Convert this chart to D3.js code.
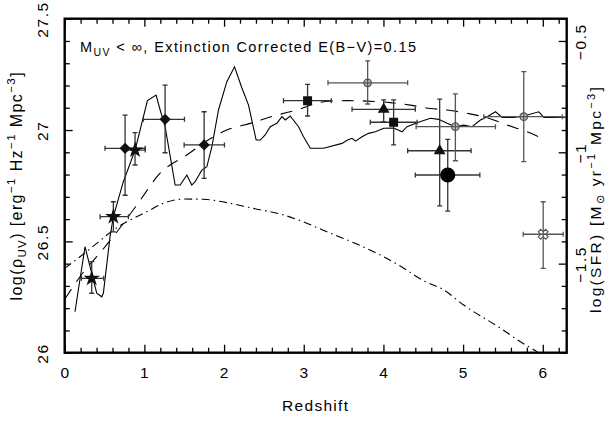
<!DOCTYPE html>
<html><head><meta charset="utf-8">
<script src="https://cdn.jsdelivr.net/npm/d3@7"></script>
<style>body{margin:0;background:#fff}svg{display:block}text{font-family:"Liberation Sans",Arial,sans-serif;fill:#000}</style>
</head><body><svg id="c" width="606" height="421"></svg>
<script>
// ---- data ----
const solidZ = [0.129,0.255,0.402,0.465,0.485,0.569,0.611,0.736,0.883,0.946,1.038,1.147,1.198,1.260,1.386,1.449,1.533,1.595,1.637,1.721,1.784,1.847,1.930,2.035,2.131,2.224,2.307,2.403,2.454,2.516,2.579,2.663,2.726,2.768,2.830,2.935,2.997,3.082,3.249,3.480,3.550,3.606,3.650,3.731,3.814,3.898,4.003,4.128,4.234,4.296,4.422,4.589,4.693,4.799,4.903,5.008,5.113,5.217,5.302,5.406,5.490,5.636,5.761,5.950,6.013,6.097,6.29];
const solidRho = [26.184,26.476,26.267,26.251,26.267,26.521,26.611,26.768,26.910,27.000,27.132,27.157,27.090,27.015,26.753,26.753,26.798,26.753,26.768,26.820,26.835,26.925,27.090,27.217,27.284,27.189,27.112,26.955,26.955,26.978,27.015,27.030,27.060,27.045,27.063,27.015,26.970,26.918,26.918,26.940,26.955,26.963,26.950,26.970,26.985,26.992,27.008,27.009,26.992,27.015,27.033,27.053,27.048,27.030,27.015,27.022,27.015,27.045,27.060,27.082,27.057,27.057,27.063,27.082,27.057,27.057,27.058];
const dashedZ = [0.0,0.255,0.402,0.673,0.905,1.197,1.533,1.867,2.035,2.328,2.663,2.915,3.249,3.543,3.794,4.087,4.338,4.589,4.799,5.050,5.322,5.553,5.804,5.992];
const dashedRho = [26.240,26.371,26.431,26.551,26.663,26.806,26.888,26.970,27.000,27.030,27.067,27.090,27.127,27.132,27.130,27.123,27.112,27.097,27.090,27.075,27.053,27.022,26.992,26.963];
const dashdotZ = [0.0,0.192,0.402,0.611,0.779,1.030,1.239,1.490,1.741,2.035,2.369,2.705,2.956,3.291,3.626,3.920,4.212,4.505,4.756,5.008,5.469,5.720,5.930];
const dashdotRho = [26.379,26.431,26.491,26.551,26.588,26.633,26.671,26.690,26.689,26.674,26.648,26.623,26.593,26.543,26.494,26.446,26.389,26.323,26.282,26.214,26.110,26.049,26.004];

// points: z, rho, zLo, zHi, rhoLo, rhoHi
const starZ = [0.339,0.611,0.883];
const starRho = [26.334,26.611,26.910];
const starZLo = [0.21,0.445,0.75];
const starZHi = [0.49,0.80,1.01];
const starRhoLo = [26.267,26.543,26.843];
const starRhoHi = [26.409,26.678,26.988];

const diamondZ = [0.758,1.260,1.750];
const diamondRho = [26.918,27.048,26.933];
const diamondZLo = [0.506,0.988,1.499];
const diamondZHi = [1.01,1.503,2.005];
const diamondRhoLo = [26.707,26.898,26.783];
const diamondRhoHi = [27.067,27.202,27.082];

const squareZ = [3.048,4.128];
const squareRho = [27.132,27.035];
const squareZLo = [2.746,3.835];
const squareZHi = [3.345,4.422];
const squareRhoLo = [27.063,26.933];
const squareRhoHi = [27.205,27.135];

const triZ = [4.003,4.706];
const triRho = [27.093,26.907];
const triZLo = [3.606,4.304];
const triZHi = [4.40,5.10];
const triRhoLo = [27.037,26.659];
const triRhoHi = [27.135,27.139];

const circZ = [4.807];
const circRho = [26.798];
const circZLo = [4.40];
const circZHi = [5.21];
const circRhoLo = [26.636];
const circRhoHi = [26.958];

const openZ = [3.802,4.903,5.761];
const openRho = [27.212,27.015,27.060];
const openZLo = [3.304,4.41,5.259];
const openZHi = [4.304,5.406,6.244];
const openRhoLo = [27.117,26.862,26.858];
const openRhoHi = [27.311,27.162,27.262];

const crossZ = [6.005];
const crossRho = [26.532];
const crossZLo = [5.754];
const crossZHi = [6.256];
const crossRhoLo = [26.379];
const crossRhoHi = [26.678];

const xMajor = [0,1,2,3,4,5,6];
const yMajor = [26,26.5,27,27.5];
const yMajorLabels = ["26","26.5","27","27.5"];
const sfrMajor = [-0.5,-1,-1.5];
const sfrMajorLabels = ["\u22120.5","\u22121","\u22121.5"];
const sfrOffset = 27.9;

// ---- layout ----
const svg = d3.select("#c");
const L = 64.7, R = 566.7, T = 18.7, B = 352.7;
const x = d3.scaleLinear().domain([0,6.3]).range([L,R]);
const y = d3.scaleLinear().domain([26,27.5]).range([B,T]);
const y2 = d3.scaleLinear().domain([26-sfrOffset,27.5-sfrOffset]).range([B,T]);

const xMinor = d3.range(0,6.31,0.2).filter(v=>Math.abs(v-Math.round(v))>1e-6);
const yMinor = d3.range(26,27.501,0.1).filter(v=>!yMajor.some(m=>Math.abs(m-v)<1e-6));
const sfrAll = d3.range(-1.9,-0.39,0.1);
const sfrMinor = sfrAll.filter(v=>!sfrMajor.some(m=>Math.abs(m-v)<1e-6));

function ax(g, axis){ g.call(axis); g.select(".domain").remove(); g.selectAll("line").attr("stroke","#000").attr("stroke-width",1.3); g.selectAll("text").remove(); }
svg.append("g").attr("transform",`translate(0,${B})`).call(g=>ax(g,d3.axisBottom(x).tickValues(xMinor).tickSize(-5)));
svg.append("g").attr("transform",`translate(0,${B})`).call(g=>ax(g,d3.axisBottom(x).tickValues(xMajor).tickSize(-8)));
svg.append("g").attr("transform",`translate(0,${T})`).call(g=>ax(g,d3.axisTop(x).tickValues(xMinor).tickSize(-5)));
svg.append("g").attr("transform",`translate(0,${T})`).call(g=>ax(g,d3.axisTop(x).tickValues(xMajor).tickSize(-8)));
svg.append("g").attr("transform",`translate(${L},0)`).call(g=>ax(g,d3.axisLeft(y).tickValues(yMinor).tickSize(-5)));
svg.append("g").attr("transform",`translate(${L},0)`).call(g=>ax(g,d3.axisLeft(y).tickValues(yMajor).tickSize(-8)));
svg.append("g").attr("transform",`translate(${R},0)`).call(g=>ax(g,d3.axisRight(y2).tickValues(sfrMinor).tickSize(-5)));
svg.append("g").attr("transform",`translate(${R},0)`).call(g=>ax(g,d3.axisRight(y2).tickValues(sfrMajor).tickSize(-8)));

// frame
svg.append("rect").attr("x",L).attr("y",T).attr("width",R-L).attr("height",B-T)
  .attr("fill","none").attr("stroke","#000").attr("stroke-width",2.4);

// tick labels
svg.selectAll(".xl").data(xMajor).enter().append("text")
  .attr("x",d=>x(d)+0.8).attr("y",B+25).attr("text-anchor","middle").attr("font-size",15.5).attr("letter-spacing",1.5).text(d=>d);
svg.selectAll(".yl").data(yMajor).enter().append("text")
  .attr("transform",(d,i)=>`translate(${L-17},${y(d)+0.8}) rotate(-90)`).attr("text-anchor","middle")
  .attr("font-size",15.5).attr("letter-spacing",1.6).text((d,i)=>yMajorLabels[i]);
svg.selectAll(".sl").data(sfrMajor).enter().append("text")
  .attr("transform",(d,i)=>`translate(${R+19.5},${y2(d)+0.8}) rotate(-90)`).attr("text-anchor","middle")
  .attr("font-size",15.5).attr("letter-spacing",1.6).text((d,i)=>sfrMajorLabels[i]);

// axis titles
svg.append("text").attr("x",(L+R)/2).attr("y",411).attr("text-anchor","middle").attr("font-size",15.5).attr("letter-spacing",1.3).text("Redshift");
const lt = svg.append("text").attr("transform",`translate(22,${(T+B)/2}) rotate(-90)`).attr("text-anchor","middle").attr("font-size",16).attr("letter-spacing",1.4);
lt.append("tspan").text("log(\u03C1");
lt.append("tspan").attr("dy",4).attr("font-size",11.5).text("UV");
lt.append("tspan").attr("dy",-4).text(")  [erg");
lt.append("tspan").attr("dy",-7).attr("font-size",11.5).text("\u22121");
lt.append("tspan").attr("dy",7).text("  Hz");
lt.append("tspan").attr("dy",-7).attr("font-size",11.5).text("\u22121");
lt.append("tspan").attr("dy",7).text("  Mpc");
lt.append("tspan").attr("dy",-7).attr("font-size",11.5).text("\u22123");
lt.append("tspan").attr("dy",7).text("]");

const rt = svg.append("text").attr("transform",`translate(600.5,199) rotate(-90)`).attr("text-anchor","middle").attr("font-size",15.5).attr("letter-spacing",2.3);
rt.append("tspan").text("log(SFR)  [M");
rt.append("tspan").attr("dy",3).attr("font-size",11).text("\u2299");
rt.append("tspan").attr("dy",-3).text("  yr");
rt.append("tspan").attr("dy",-6).attr("font-size",11).text("\u22121");
rt.append("tspan").attr("dy",6).text("  Mpc");
rt.append("tspan").attr("dy",-6).attr("font-size",11).text("\u22123");
rt.append("tspan").attr("dy",6).text("]");

// title
const tt = svg.append("text").attr("x",80).attr("y",52).attr("font-size",14.5).attr("letter-spacing",1.4);
tt.append("tspan").text("M");
tt.append("tspan").attr("dy",4).attr("font-size",10.5).text("UV");
tt.append("tspan").attr("dy",-4).text(" < \u221E, Extinction Corrected E(B\u2212V)=0.15");

// clip
svg.append("clipPath").attr("id","pc").append("rect").attr("x",L).attr("y",T).attr("width",R-L).attr("height",B-T);
const plot = svg.append("g").attr("clip-path","url(#pc)");

const line = d3.line().x(d=>x(d[0])).y(d=>y(d[1]));
plot.append("path").datum(d3.zip(dashdotZ,dashdotRho)).attr("d",line.curve(d3.curveMonotoneX))
  .attr("fill","none").attr("stroke","#000").attr("stroke-width",1.1).attr("stroke-dasharray","8,4,1.5,4");
plot.append("path").datum(d3.zip(dashedZ,dashedRho)).attr("d",line.curve(d3.curveMonotoneX))
  .attr("fill","none").attr("stroke","#000").attr("stroke-width",1.1).attr("stroke-dasharray","12,9");
plot.append("path").datum(d3.zip(solidZ,solidRho)).attr("d",d3.line().x(d=>x(d[0])).y(d=>y(d[1])))
  .attr("fill","none").attr("stroke","#000").attr("stroke-width",1.1);

// error bars
function errbars(Z,Rh,ZL,ZH,RL,RH,color){
  const g = plot.append("g").attr("stroke",color).attr("stroke-width",1.3).attr("fill","none");
  Z.forEach((z,i)=>{
    g.append("line").attr("x1",x(ZL[i])).attr("x2",x(ZH[i])).attr("y1",y(Rh[i])).attr("y2",y(Rh[i]));
    g.append("line").attr("x1",x(z)).attr("x2",x(z)).attr("y1",y(RL[i])).attr("y2",y(RH[i]));
    [ZL[i],ZH[i]].forEach(v=>g.append("line").attr("x1",x(v)).attr("x2",x(v)).attr("y1",y(Rh[i])-2.5).attr("y2",y(Rh[i])+2.5));
    [RL[i],RH[i]].forEach(v=>g.append("line").attr("x1",x(z)-2.5).attr("x2",x(z)+2.5).attr("y1",y(v)).attr("y2",y(v)));
  });
}
errbars(starZ,starRho,starZLo,starZHi,starRhoLo,starRhoHi,"#333");
errbars(diamondZ,diamondRho,diamondZLo,diamondZHi,diamondRhoLo,diamondRhoHi,"#333");
errbars(squareZ,squareRho,squareZLo,squareZHi,squareRhoLo,squareRhoHi,"#333");
errbars(triZ,triRho,triZLo,triZHi,triRhoLo,triRhoHi,"#333");
errbars(circZ,circRho,circZLo,circZHi,circRhoLo,circRhoHi,"#333");
errbars(openZ,openRho,openZLo,openZHi,openRhoLo,openRhoHi,"#555");
errbars(crossZ,crossRho,crossZLo,crossZHi,crossRhoLo,crossRhoHi,"#555");

function syms(Z,Rh,type,size,rot,fill){
  plot.selectAll(null).data(d3.zip(Z,Rh)).enter().append("path")
    .attr("transform",d=>`translate(${x(d[0])},${y(d[1])}) rotate(${rot})`)
    .attr("d",d3.symbol().type(type).size(size)).attr("fill",fill);
}
syms(starZ,starRho,d3.symbolStar,85,0,"#111");
syms(diamondZ,diamondRho,d3.symbolSquare,64,45,"#111");
syms(squareZ,squareRho,d3.symbolSquare,81,0,"#111");
syms(triZ,triRho,d3.symbolTriangle,60,0,"#111");
syms(circZ,circRho,d3.symbolCircle,180,0,"#000");
// open crossed symbols
const og = plot.selectAll(null).data(d3.zip(openZ,openRho)).enter().append("g")
  .attr("transform",d=>`translate(${x(d[0])},${y(d[1])})`);
og.append("circle").attr("r",3.8).attr("fill","#bbb").attr("stroke","#555").attr("stroke-width",1.2);
og.append("path").attr("d","M-4,0H4M0,-4V4").attr("stroke","#555").attr("stroke-width",1.2);
// cross symbol
plot.selectAll(null).data(d3.zip(crossZ,crossRho)).enter().append("path")
  .attr("transform",d=>`translate(${x(d[0])},${y(d[1])}) rotate(45)`)
  .attr("d",d3.symbol().type(d3.symbolCross).size(60)).attr("fill","none").attr("stroke","#555").attr("stroke-width",1.1);
</script></body></html>
